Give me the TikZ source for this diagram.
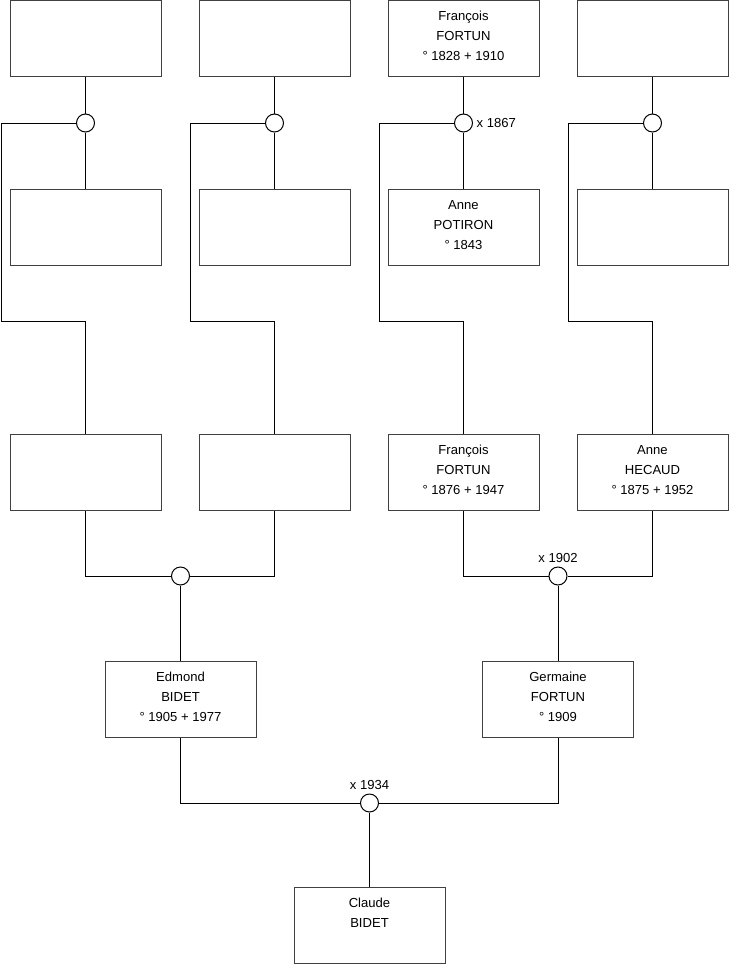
\documentclass[tikz,border=0pt]{standalone}
\usepackage{fontspec}
\setmainfont{Liberation Sans}
\usetikzlibrary{positioning}

% text of a person box, set from the top
\newcommand{\famtext}[1]{\parbox[c][57pt][t]{113.25pt}{\centering\rule{0pt}{15.2pt}#1}}

\begin{document}
\begin{tikzpicture}[
    x=0.75pt, y=-0.75pt,
    person/.style={rectangle, draw=black!75, fill=white, inner sep=0pt,
        line width=0.75pt, font=\fontsize{9.8}{15}\selectfont},
    union/.style={circle, draw=black, fill=white, minimum size=13.5pt,
        inner sep=0pt, line width=0.75pt},
    year/.style={font=\fontsize{9.8}{11}\selectfont, inner sep=2.5pt},
    link/.style={line width=0.75pt, black}
]
    \useasboundingbox (0,0) rectangle (740,975);

    % top row
    \node[person] (gf1) at (85.5,38) {\famtext{}};
    \node[person] (gf2) at (274.5,38) {\famtext{}};
    \node[person] (gf3) at (463.5,38) {\famtext{François\\FORTUN\\° 1828 + 1910}};
    \node[person] (gf4) at (652.5,38) {\famtext{}};

    % second row
    \node[person] (gm1) at (85.5,227) {\famtext{}};
    \node[person] (gm2) at (274.5,227) {\famtext{}};
    \node[person] (gm3) at (463.5,227) {\famtext{Anne\\POTIRON\\° 1843}};
    \node[person] (gm4) at (652.5,227) {\famtext{}};

    % unions of the top couples
    \node[union] (u1) at (85.5,123) {};
    \node[union] (u2) at (274.5,123) {};
    \node[union, label={[year]right:x 1867}] (u3) at (463.5,123) {};
    \node[union] (u4) at (652.5,123) {};

    % third row
    \node[person] (f1) at (85.5,472.5) {\famtext{}};
    \node[person] (f2) at (274.5,472.5) {\famtext{}};
    \node[person] (f3) at (463.5,472.5) {\famtext{François\\FORTUN\\° 1876 + 1947}};
    \node[person] (f4) at (652.5,472.5) {\famtext{Anne\\HECAUD\\° 1875 + 1952}};

    \node[union] (u5) at (180.5,576) {};
    \node[union, label={[year]above:x 1902}] (u6) at (558,576) {};

    % parents
    \node[person] (e) at (180.5,699) {\famtext{Edmond\\BIDET\\° 1905 + 1977}};
    \node[person] (g) at (558,699) {\famtext{Germaine\\FORTUN\\° 1909}};

    \node[union, label={[year]above:x 1934}] (u7) at (369.5,803) {};

    % child
    \node[person] (c) at (369.5,925) {\famtext{Claude\\BIDET}};

    % top couples
    \foreach \i in {1,...,4}
        \draw[link] (gf\i) -- (u\i) -- (gm\i);
    % from each union down to its child
    \foreach \i/\x in {1/1, 2/190, 3/379, 4/568}
        \draw[link] (u\i.west) -| (\x,321) -| (f\i.north);

    % third row couples
    \draw[link] (f1.south) |- (u5.west);
    \draw[link] (f2.south) |- (u5.east);
    \draw[link] (f3.south) |- (u6.west);
    \draw[link] (f4.south) |- (u6.east);
    \draw[link] (u5) -- (e);
    \draw[link] (u6) -- (g);

    % parents
    \draw[link] (e.south) |- (u7.west);
    \draw[link] (g.south) |- (u7.east);
    \draw[link] (u7) -- (c);
\end{tikzpicture}
\end{document}
